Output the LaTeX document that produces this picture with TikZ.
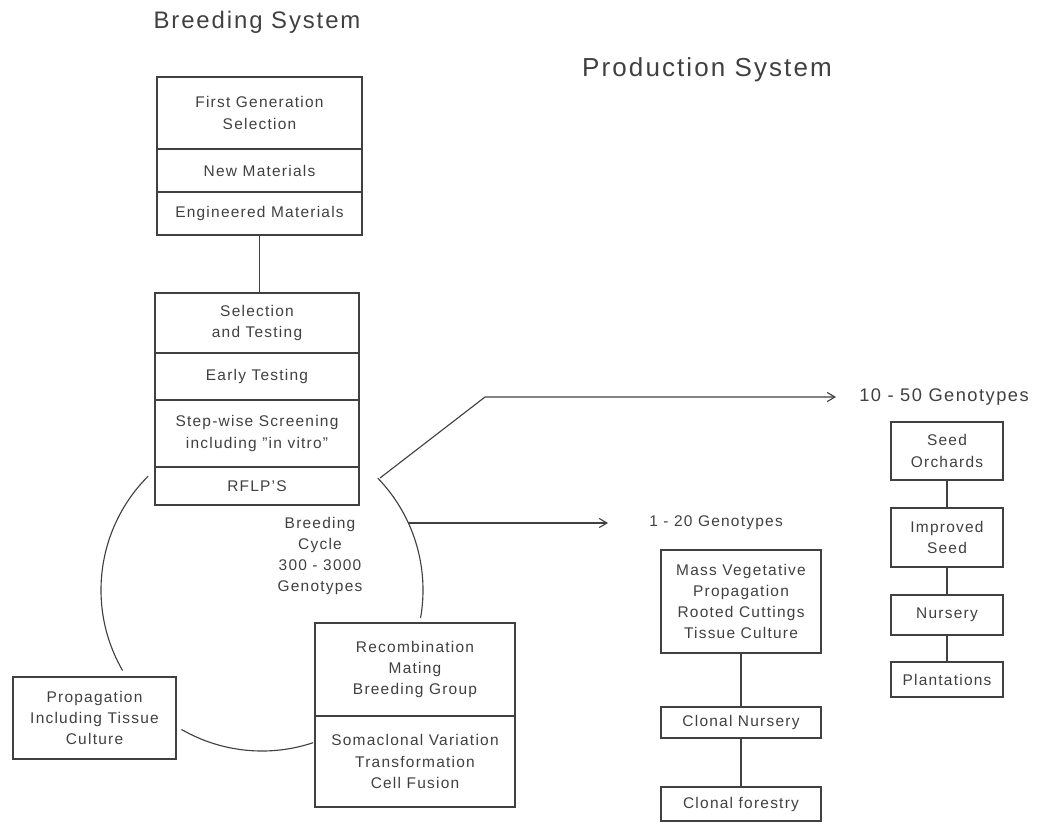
\documentclass[tikz,border=0pt]{standalone}
\usepackage{fontspec}
\setmainfont[LetterSpace=8]{Liberation Sans}
\usetikzlibrary{arrows.meta}
\tikzset{
  every node/.style={font=\fontsize{11}{15}\selectfont},
  part/.style={draw, align=center},
  gtext/.style={align=center},
  flow/.style={-{Straight Barb[length=5.5pt,width=6.5pt]}},
}

\begin{document}
\begin{tikzpicture}[thick, black!75, x=0.025cm, y=-0.025cm]
    \useasboundingbox (0,0) rectangle (1037,825);

    % coordinates to be reused
    \coordinate (cyc) at (262,590);% centre of the breeding cycle
    \coordinate (up) at (380,478);
    \coordinate (bend) at (485,397);
    \coordinate (low) at (408,523);

    % titles
    \node [font=\fontsize{17}{20}\selectfont] (bsys) at (257,22) {Breeding System};
    \node [font=\fontsize{18.5}{22}\selectfont] (psys) at (707,70) {Production System};

    % breeding system
    \node [part, minimum width=5.125cm, minimum height=1.8cm] (fgs) at (259.5,113) {First Generation\\Selection};
    \node [part, minimum width=5.125cm, minimum height=1.075cm] (newm) at (259.5,170.5) {New Materials};
    \node [part, minimum width=5.125cm, minimum height=1.075cm] (engm) at (259.5,213.5) {Engineered Materials};

    \node [part, minimum width=5.1cm, minimum height=1.5cm] (selt) at (257,323) {Selection\\and Testing};
    \node [part, minimum width=5.1cm, minimum height=1.175cm] (early) at (257,376.5) {Early Testing};
    \node [part, minimum width=5.1cm, minimum height=1.675cm] (stepw) at (257,433.5) {Step-wise Screening\\including \symbol{34}in vitro\symbol{34}};
    \node [part, minimum width=5.1cm, minimum height=0.95cm] (rflp) at (257,486) {RFLP'S};

    \node [part, minimum width=4.075cm, minimum height=2.05cm] (prop) at (94.5,718) {Propagation\\Including Tissue\\Culture};
    \node [part, minimum width=5cm, minimum height=2.325cm] (recm) at (415,669.5) {Recombination\\Mating\\Breeding Group};
    \node [part, minimum width=5cm, minimum height=2.275cm] (soma) at (415,761.5) {Somaclonal Variation\\Transformation\\Cell Fusion};

    \node [gtext] (bcyc) at (320,556) {Breeding\\Cycle\\300 - 3000\\Genotypes};

    \draw (engm.south) -- (engm.south |- selt.north);

    % the breeding cycle
    \draw ([shift={(225:161)}]cyc) arc [start angle=225, end angle=150, radius=161];
    \draw ([shift={(120:161)}]cyc) arc [start angle=120, end angle=71.5, radius=161];
    \draw ([shift={(-44:161)}]cyc) arc [start angle=-44, end angle=10, radius=161];

    % production system
    \node [anchor=west] (g120) at (644,523) {1 - 20 Genotypes};
    \node [anchor=west, font=\fontsize{13}{16}\selectfont] (g1050) at (854,397) {10 - 50 Genotypes};

    \node [part, minimum width=4cm, minimum height=2.575cm] (massv) at (741,601.5) {Mass Vegetative\\Propagation\\Rooted Cuttings\\Tissue Culture};
    \node [part, minimum width=4cm, minimum height=0.775cm] (cnur) at (741,722.5) {Clonal Nursery};
    \node [part, minimum width=4cm, minimum height=0.85cm] (cfor) at (741,804) {Clonal forestry};

    \node [part, minimum width=2.8cm, minimum height=1.45cm] (sorch) at (947,451) {Seed\\Orchards};
    \node [part, minimum width=2.8cm, minimum height=1.475cm] (iseed) at (947,537.5) {Improved\\Seed};
    \node [part, minimum width=2.8cm, minimum height=1cm] (nurs) at (947,615) {Nursery};
    \node [part, minimum width=2.8cm, minimum height=0.875cm] (plant) at (947,679.5) {Plantations};

    \draw (massv) -- (cnur);
    \draw (cnur) -- (cfor);
    \draw (sorch) -- (iseed);
    \draw (iseed) -- (nurs);
    \draw (nurs) -- (plant);

    % arrows into the production system
    \draw [flow] (up) -- (bend) -- ([xshift=-0.45cm]g1050.west);
    \draw [flow] (low) -- ([xshift=-0.9cm]g120.west);
\end{tikzpicture}
\end{document}
